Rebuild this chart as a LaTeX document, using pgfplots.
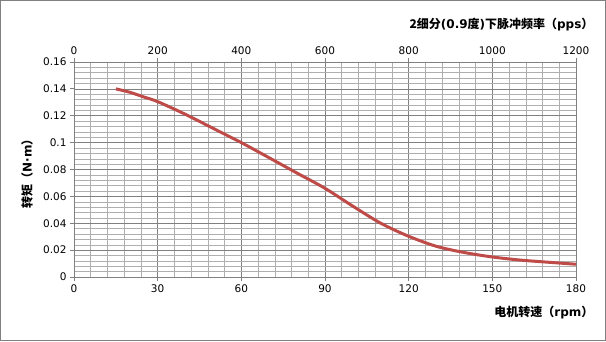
\documentclass[border=0pt]{standalone}
\usepackage{pgfplots}
\pgfplotsset{compat=1.18}
\usepackage{fontspec}
\setmainfont{DejaVu Sans}
\newfontfamily\cjk{Noto Sans CJK SC}
\definecolor{curve}{RGB}{190,75,72}
\definecolor{minorg}{RGB}{175,175,175}
\definecolor{majorg}{RGB}{128,128,128}
\begin{document}
\begin{tikzpicture}[x=1pt,y=1pt]
\draw[color=majorg, line width=1pt] (0.5,0.5) rectangle (605.5,340.5);
\begin{axis}[
  scale only axis, width=502pt, height=215pt,
  at={(74pt,64pt)}, anchor=south west,
  xmin=0, xmax=180, ymin=0, ymax=0.16,
  xtick={0,30,...,180}, ytick={0,0.02,...,0.16},
  minor x tick num=4, minor y tick num=4,
  grid=both,
  major grid style={color=majorg, line width=0.6pt},
  minor grid style={color=minorg, line width=0.5pt},
  axis x line*=bottom, axis y line*=left,
  axis line style={color=majorg, line width=0.8pt, -},
  tick style={color=majorg, line width=0.8pt},
  tick align=outside, major tick length=4pt, minor tick length=0pt,
  font=\fontsize{10.5}{12}\selectfont,
  /pgf/number format/assume math mode=true,
  yticklabel style={/pgf/number format/fixed, /pgf/number format/precision=2},
  scaled y ticks=false,
]
\addplot[color=curve, line width=3pt, smooth] coordinates {
(15,0.140) (20,0.1375) (25,0.134) (30,0.1305) (40,0.121) (50,0.1105)
(60,0.100) (70,0.0887) (80,0.0773) (90,0.066) (100,0.0527) (110,0.040)
(120,0.0303) (130,0.0228) (140,0.0182) (150,0.0149) (160,0.0126)
(170,0.011) (180,0.0095)};
\end{axis}
\begin{axis}[
  scale only axis, width=502pt, height=215pt,
  at={(74pt,64pt)}, anchor=south west,
  xmin=0, xmax=1200, ymin=0, ymax=0.16,
  xtick={0,200,...,1200},
  axis x line*=top, axis y line=none,
  axis line style={color=majorg, line width=0.8pt, -},
  tick style={color=majorg, line width=0.8pt},
  tick align=outside, major tick length=4pt,
  font=\fontsize{10.5}{12}\selectfont,
  /pgf/number format/assume math mode=true,
  /pgf/number format/1000 sep={},
]
\end{axis}
\node[anchor=east, font=\bfseries\fontsize{12}{14}\selectfont] at (597,316) {{\cjk 2细分}(0.9{\cjk 度})\cjk 下脉冲频率（\normalfont\bfseries pps\cjk ）};
\node[anchor=east, font=\bfseries\fontsize{12}{14}\selectfont] at (597,28) {{\cjk 电机转速（}rpm{\cjk ）}};
\node[rotate=90, font=\bfseries\fontsize{12}{14}\selectfont] at (27,170) {{\cjk 转矩（}N·m{\cjk ）}};
\end{tikzpicture}
\end{document}
